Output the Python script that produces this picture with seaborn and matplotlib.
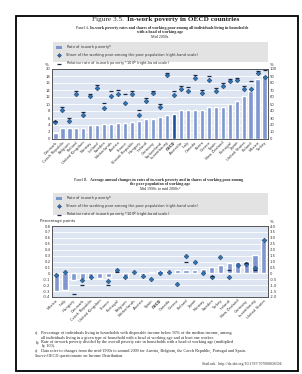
import numpy as np
import pandas as pd
import seaborn as sns
import matplotlib.pyplot as plt
from matplotlib.patches import Rectangle, Patch
from matplotlib.lines import Line2D

# Panel A data (mid 2000s)
countries_a = ["Denmark", "Czech Republic", "Belgium", "Finland", "United Kingdom", "Norway",
               "Iceland", "Sweden", "Netherlands", "Austria", "France", "Slovak Republic",
               "Hungary", "Ireland", "Germany", "Switzerland", "Luxembourg", "OECD",
               "Australia", "Italy", "Canada", "Korea", "Greece", "Spain", "New Zealand",
               "Portugal", "Japan", "United States", "Poland", "Mexico", "Turkey"]
rate_a = [1.8, 3.0, 3.2, 3.2, 3.2, 4.0, 4.0, 4.3, 4.3, 4.6, 4.6, 4.8, 5.0, 5.6, 5.8, 6.4,
          6.8, 7.2, 8.2, 8.2, 8.2, 8.2, 9.2, 9.2, 9.2, 10.0, 10.8, 12.4, 13.6, 17.2, 18.4]
share_a = [24, 41, 26, 64, 34, 61, 73, 44, 62, 64, 52, 64, 34, 54, 65, 46, 92, 63,
           71, 69, 87, 65, 85, 69, 76, 83, 84, 72, 71, 94, 89]
relative_a = [26, 45, 30, 69, 39, 64, 77, 52, 69, 70, 64, 69, 41, 59, 69, 50, 95, 69,
              76, 75, 91, 70, 90, 73, 80, 86, 87, 76, 83, 97, 99]

# Panel B data (mid 1990s to mid 2000s)
countries_b = ["Mexico", "Italy", "Hungary", "Denmark", "Czech Republic", "United Kingdom",
               "France", "Portugal", "Belgium", "Netherlands", "Austria", "Spain", "OECD",
               "Canada", "Greece", "Finland", "Japan", "Norway", "Sweden", "Turkey",
               "Ireland", "New Zealand", "Germany", "Luxembourg", "United States"]
rate_b = [-0.30, -0.29, -0.12, -0.10, -0.08, -0.08, -0.06, 0.05, -0.06, 0.01, -0.02, 0.03,
          0.04, 0.04, 0.06, 0.06, 0.06, 0.08, 0.11, 0.14, 0.18, 0.19, 0.21, 0.31, 0.55]
share_b = [-0.17, 0.10, np.nan, -0.60, -0.35, np.nan, -0.65, 0.30, -0.30, 0.10, -0.25, -0.45,
           0.0, 0.10, -0.90, 1.45, 0.95, 0.0, -0.35, 1.40, -0.35, 0.70, 0.75, 0.45, 2.80]
relative_b = [np.nan, np.nan, -1.75, -1.00, np.nan, np.nan, -0.95, 0.10, np.nan, np.nan, np.nan,
              np.nan, np.nan, np.nan, np.nan, 1.00, np.nan, np.nan, -0.20, np.nan, 0.30, np.nan,
              0.90, 0.25, np.nan]

BAR = "#7f96cf"
OECD_BAR = "#1d4f9b"
DIAMOND = "#2a74b8"
DASH = "#1b2a48"
PLOT_BG = "#dde5f2"

sns.set_theme(style="white")
plt.rcParams['font.family'] = ['DejaVu Sans']
SERIF = ['Liberation Serif', 'DejaVu Serif']

W, H = 302, 374
fig = plt.figure(figsize=(W / 100, H / 100), dpi=100)


def fx(px):
    return px / W


def fy(py):
    return 1 - py / H


def draw_panel(top, bottom, countries, rate, share, relative, lticks, llabels, rticks, rlabels):
    ax = fig.add_axes([fx(52), fy(bottom), fx(268) - fx(52), fy(top) - fy(bottom)])
    df = pd.DataFrame({'country': countries, 'rate': rate, 'share': share, 'relative': relative})
    df['pos'] = np.arange(len(df))
    colors = [OECD_BAR if c == "OECD" else BAR for c in countries]
    sns.barplot(data=df, x='country', y='rate', hue='country', palette=colors, legend=False,
                width=0.6, saturation=1, errorbar=None, ax=ax)
    ax2 = ax.twinx()
    sns.scatterplot(data=df, x='pos', y='share', marker='D', s=6, color=DIAMOND,
                    edgecolor=DASH, linewidth=0.3, ax=ax2)
    sns.scatterplot(data=df, x='pos', y='relative', marker='_', s=9, color=DASH,
                    linewidth=0.9, ax=ax2)

    ax.set_xlim(-0.5, len(df) - 0.5)
    ax.set_ylim(lticks[0], lticks[-1])
    ax2.set_ylim(rticks[0], rticks[-1])
    ax.set_yticks(lticks)
    ax.set_yticklabels(llabels)
    ax2.set_yticks(rticks)
    ax2.set_yticklabels(rlabels)
    ax.set_xticks(df['pos'])
    ax.set_xticklabels(countries, rotation=45, ha='right', rotation_mode='anchor')
    for lab in ax.get_xticklabels():
        if lab.get_text() == "OECD":
            lab.set_fontweight('bold')
    ax.set_facecolor(PLOT_BG)
    ax.yaxis.grid(True, color='white', lw=0.6)
    ax.set_axisbelow(True)
    for a in (ax, ax2):
        a.set_xlabel('')
        a.set_ylabel('')
        a.tick_params(length=0, labelsize=2.7, pad=1.2, colors='#333333')
        for s in a.spines.values():
            s.set_color('#4a4a4a')
            s.set_linewidth(0.5)
    return ax, ax2


def legend_box(top, bottom, first_label):
    fig.add_artist(Rectangle((fx(53), fy(bottom)), fx(268) - fx(53), fy(top) - fy(bottom),
                             transform=fig.transFigure, facecolor='#e3e3e3', edgecolor='none'))
    handles = [Patch(facecolor=BAR, edgecolor='none'),
               Line2D([], [], marker='D', ls='none', color=DIAMOND, mec=DASH, mew=0.3, ms=2),
               Line2D([], [], marker='_', ls='none', color=DASH, ms=3, mew=0.9)]
    labels = [first_label,
              "Share of the working poor among the poor population (right-hand scale)",
              "Relative rate of in-work poverty *100$^{b}$ (right-hand scale)"]
    fig.legend(handles, labels, loc='upper left', bbox_to_anchor=(fx(56), fy(top + 1)),
               frameon=False, fontsize=2.6, handlelength=1.6, handleheight=0.9,
               handletextpad=1.2, labelspacing=0.45, borderaxespad=0, borderpad=0,
               labelcolor='#333333')


# Page frame
fig.add_artist(Rectangle((fx(16), fy(371)), fx(298) - fx(16), fy(16) - fy(371),
                         transform=fig.transFigure, fill=False, lw=1.3, ec='black'))

# Titles
fig.text(fx(124), fy(19), "Figure 3.5.", ha='right', va='center', fontsize=5.2,
         family=SERIF, color='#333333')
fig.text(fx(127), fy(19), "In-work poverty in OECD countries", ha='left', va='center',
         fontsize=5.2, family=SERIF, fontweight='bold')

fig.text(fx(89), fy(28), "Panel A.", ha='right', va='center', fontsize=2.9, family=SERIF)
fig.text(fx(90.5), fy(28), "In-work poverty rates and shares of working poor among all "
         "individuals living in households", ha='left', va='center', fontsize=2.9,
         family=SERIF, fontweight='bold')
fig.text(fx(160), fy(32.5), "with a head of working age", ha='center', va='center',
         fontsize=2.9, family=SERIF, fontweight='bold')
fig.text(fx(160), fy(37), "Mid 2000s", ha='center', va='center', fontsize=2.9, family=SERIF)

legend_box(42, 62, "Rate of in-work poverty$^{a}$")
fig.text(fx(47), fy(65), "%", ha='center', va='center', fontsize=2.8)
fig.text(fx(272), fy(65), "%", ha='center', va='center', fontsize=2.8)
draw_panel(69, 139, countries_a, rate_a, share_a, relative_a,
           list(range(0, 21, 2)), [str(v) for v in range(0, 21, 2)],
           list(range(0, 101, 10)), [str(v) for v in range(0, 101, 10)])

fig.text(fx(88), fy(180), "Panel B.", ha='right', va='center', fontsize=2.9, family=SERIF)
fig.text(fx(89.5), fy(180), "Average annual changes in rates of in-work poverty and in shares "
         "of working poor among", ha='left', va='center', fontsize=2.9, family=SERIF,
         fontweight='bold')
fig.text(fx(160), fy(184.5), "the poor population of working age", ha='center', va='center',
         fontsize=2.9, family=SERIF, fontweight='bold')
fig.text(fx(160), fy(189), "Mid 1990s to mid 2000s$^{c}$", ha='center', va='center',
         fontsize=2.9, family=SERIF)

legend_box(193, 215, "Rate of in-work poverty$^{a}$")
fig.text(fx(40), fy(221), "Percentage points", ha='left', va='center', fontsize=2.8)
fig.text(fx(272), fy(222), "%", ha='center', va='center', fontsize=2.8)
lt = [round(v, 1) for v in np.arange(-0.4, 0.81, 0.1)]
rt = [round(v, 1) for v in np.arange(-2.0, 4.01, 0.5)]
draw_panel(226, 297, countries_b, rate_b, share_b, relative_b,
           lt, ["0" if v == 0 else f"{v:.1f}" for v in lt],
           rt, ["0" if v == 0 else f"{v:.1f}" for v in rt])

# Footnotes
notes = [("a)", 333, "Percentage of individuals living in households with disposable income below 50% of "
          "the median income, among"),
         (None, 337.5, "all individuals living in a given type of household with a head of working age "
          "and at least one worker."),
         ("b)", 342, "Rate of in-work poverty divided by the overall poverty rate in households with a "
          "head of working age (multiplied"),
         (None, 346.5, "by 100)."),
         ("c)", 351, "Data refer to changes from the mid-1990s to around 2000 for Austria, Belgium, "
          "the Czech Republic, Portugal and Spain.")]
for tag, y, txt in notes:
    if tag:
        fig.text(fx(35), fy(y), tag, ha='left', va='center', fontsize=3.1, family=SERIF)
    fig.text(fx(41), fy(y), txt, ha='left', va='center', fontsize=3.1, family=SERIF)
fig.text(fx(35), fy(356), "Source:", ha='left', va='center', fontsize=3.1, family=SERIF,
         style='italic')
fig.text(fx(47), fy(356), "OECD questionnaire on Income Distribution.", ha='left', va='center',
         fontsize=3.1, family=SERIF)
fig.text(fx(282), fy(364), "StatLink   http://dx.doi.org/10.1787/707000836304", ha='right',
         va='center', fontsize=2.8, family=SERIF, color='#333333')

fig.savefig("out.png", dpi=100)
